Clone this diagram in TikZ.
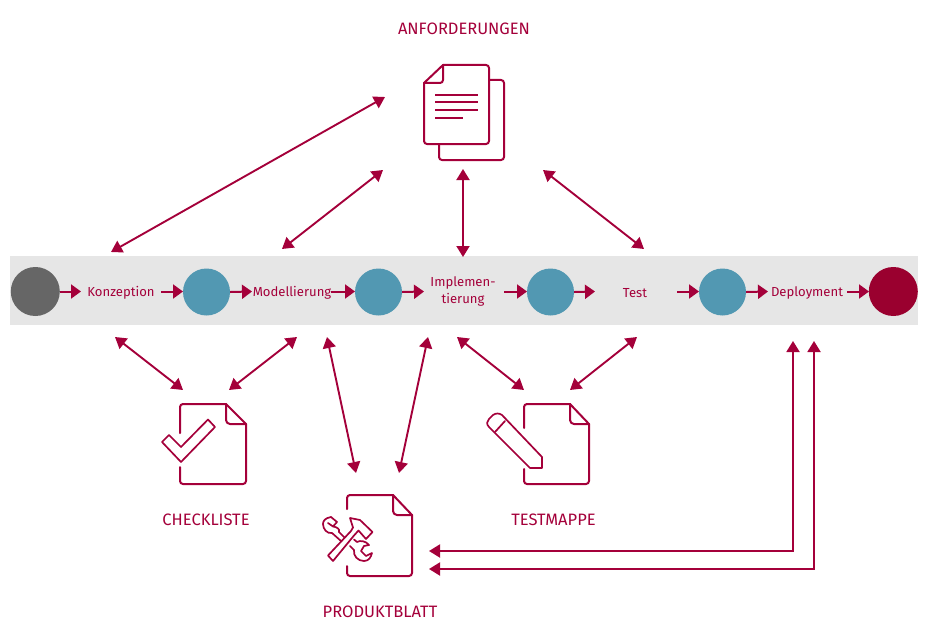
\documentclass[tikz,border=0pt]{standalone}
\usepackage{fontspec}
\setmainfont{Fira Sans}
\usetikzlibrary{arrows.meta}
\definecolor{wine}{HTML}{A4003A}
\definecolor{band}{HTML}{E6E6E6}
\definecolor{teal1}{HTML}{5298B2}
\definecolor{grayc}{HTML}{666666}
\definecolor{endc}{HTML}{9A002F}
\tikzset{
  flow/.style={draw=wine,line width=2pt,-{Triangle[length=10pt,width=14pt]}},
  link/.style={draw=wine,line width=1.9pt,{Triangle[length=11pt,width=13pt]}-{Triangle[length=11pt,width=13pt]}},
  stepname/.style={text=wine,font=\fontsize{13.1}{17.5}\selectfont,align=center,inner sep=0pt},
  title/.style={text=wine,font=\fontsize{16.5}{20}\selectfont,inner sep=0pt},
  icon/.style={draw=wine,line width=2pt,line join=round,line cap=round},
  thin icon/.style={draw=wine,line width=1.7pt,line join=round,line cap=round},
  state/.style={circle,inner sep=0pt,draw=none},
}
\begin{document}
\begin{tikzpicture}[x=1pt,y=-1pt]
\useasboundingbox (0,0) rectangle (931,623);
\fill[band] (10,256) rectangle (918,325);
% states
\node[state,fill=grayc,minimum size=49pt] (s0) at (35.3,291.5) {};
\node[state,fill=teal1,minimum size=47pt] (s1) at (206.5,292) {};
\node[state,fill=teal1,minimum size=47pt] (s2) at (378.5,292) {};
\node[state,fill=teal1,minimum size=47pt] (s3) at (550.5,292) {};
\node[state,fill=teal1,minimum size=47pt] (s4) at (722.5,292) {};
\node[state,fill=endc,minimum size=49pt] (s5) at (893.3,291.5) {};
% labels
\node[stepname] (konz) at (121,292.5) {Konzeption};
\node[stepname] (mod) at (292,292.5) {Modellierung};
\node[stepname] (impl) at (463,291.5) {Implemen-\\tierung};
\node[stepname] (test) at (635,293) {Test};
\node[stepname] (depl) at (807,293) {Deployment};
\coordinate (k0) at (81,291.5);
\coordinate (k1) at (161,291.5);
\coordinate (m0) at (252,291.5);
\coordinate (m1) at (331,291.5);
\coordinate (i0) at (424,291.5);
\coordinate (i1) at (504,291.5);
\coordinate (t0) at (595,291.5);
\coordinate (t1) at (677,291.5);
\coordinate (d0) at (768,291.5);
\coordinate (d1) at (847,291.5);
\coordinate (w1) at (183,291.5);
\coordinate (w2) at (355,291.5);
\coordinate (w3) at (527,291.5);
\coordinate (w4) at (699,291.5);
\coordinate (w5) at (869,291.5);
\draw[flow] (s0.east) -- (k0);
\draw[flow] (k1) -- (w1);
\draw[flow] (s1.east) -- (m0);
\draw[flow] (m1) -- (w2);
\draw[flow] (s2.east) -- (i0);
\draw[flow] (i1) -- (w3);
\draw[flow] (s3.east) -- (t0);
\draw[flow] (t1) -- (w4);
\draw[flow] (s4.east) -- (d0);
\draw[flow] (d1) -- (w5);
% titles
\node[title] (anf) at (464,29) {ANFORDERUNGEN};
\node[title] (chk) at (206,519.5) {CHECKLISTE};
\node[title] (tm) at (553.5,519.5) {TESTMAPPE};
\node[title] (pb) at (380,611.5) {PRODUKTBLATT};
% link ends
\coordinate (a1) at (385,97);   \coordinate (b1) at (111,252);
\coordinate (a2) at (383,170);  \coordinate (b2) at (282,249);
\coordinate (a3) at (463,169);  \coordinate (b3) at (463,257);
\coordinate (a4) at (543,170);  \coordinate (b4) at (644,249);
\coordinate (c1) at (115,337);  \coordinate (e1) at (183,390);
\coordinate (c2) at (297,337);  \coordinate (e2) at (229,390);
\coordinate (c3) at (327,337);  \coordinate (e3) at (356,473);
\coordinate (c4) at (428,337);  \coordinate (e4) at (399,473);
\coordinate (c5) at (457,337);  \coordinate (e5) at (524,390);
\coordinate (c6) at (637,337);  \coordinate (e6) at (570,390);
\coordinate (c7) at (793,341);  \coordinate (e7) at (429,551);
\coordinate (c8) at (814,341);  \coordinate (e8) at (429,569);
\draw[link] (a1) -- (b1);
\draw[link] (a2) -- (b2);
\draw[link] (a3) -- (b3);
\draw[link] (a4) -- (b4);
\draw[link] (c1) -- (e1);
\draw[link] (c2) -- (e2);
\draw[link] (c3) -- (e3);
\draw[link] (c4) -- (e4);
\draw[link] (c5) -- (e5);
\draw[link] (c6) -- (e6);
\draw[link] (c7) |- (e7);
\draw[link] (c8) |- (e8);
% requirements icon
\draw[icon] (489,80) -- (501,80) arc[start angle=-90,end angle=0,radius=3] -- (504,157) arc[start angle=0,end angle=90,radius=3] -- (442,160) arc[start angle=90,end angle=180,radius=3] -- (439,145);
\draw[icon] (443,65) -- (486,65) arc[start angle=-90,end angle=0,radius=3] -- (489,141) arc[start angle=0,end angle=90,radius=3] -- (427,144) arc[start angle=90,end angle=180,radius=3] -- (424,83) -- cycle;
\draw[icon] (443,65) -- (443,80) arc[start angle=0,end angle=90,radius=3] -- (424,83);
\draw[icon,line cap=butt] (435,95) -- (478,95) (435,102.5) -- (478,102.5) (435,110) -- (478,110) (435,118) -- (463,118);
% checklist icon
\draw[icon] (180,433) -- (180,407) arc[start angle=180,end angle=270,radius=3] -- (226,404) -- (246,424) -- (246,481) arc[start angle=0,end angle=90,radius=3] -- (183,484) arc[start angle=90,end angle=180,radius=3] -- (180,467);
\draw[icon] (226,404) -- (226,420) arc[start angle=180,end angle=90,radius=4] -- (246,424);
\draw[thin icon] (162,442) -- (169,435) -- (181,447) -- (208,419.5) -- (215,427) -- (181,462) -- cycle;
% test folder icon
\draw[icon] (524,428) -- (524,407) arc[start angle=180,end angle=270,radius=3] -- (570,404) -- (589,424) -- (589,481) arc[start angle=0,end angle=90,radius=3] -- (527,484) arc[start angle=90,end angle=180,radius=3] -- (524,469);
\draw[icon] (570,404) -- (570,420) arc[start angle=180,end angle=90,radius=4] -- (589,424);
\draw[thin icon] (542,457) -- (542,468) -- (530,468) -- (493,431) -- (489,427) .. controls (486,424) and (487,421) .. (489,419) -- (493,415) .. controls (496,413) and (499,413) .. (502,415) -- cycle;
\draw[thin icon] (495,432) -- (505,421);
% product icon
\draw[icon] (347,509) -- (347,498) arc[start angle=180,end angle=270,radius=3] -- (393,495) -- (412,515) -- (412,573) arc[start angle=0,end angle=90,radius=3] -- (350,576) arc[start angle=90,end angle=180,radius=3] -- (347,566);
\draw[icon] (393,495) -- (393,511) arc[start angle=180,end angle=90,radius=4] -- (412,515);
% hammer
\draw[thin icon] (350,518) -- (360,520) -- (372.5,532) -- (366,539) -- (358.5,530.5) -- (354,535.5) -- (333,561) -- (328,555.5) -- (351,531) -- (353,527.5) -- cycle;
% wrench
\draw[thin icon] (339,532) -- (344.5,537.5);
\draw[thin icon] (331,517) .. controls (325,518) and (323,521) .. (323,524) .. controls (323,529) and (327,534) .. (332,533) -- (341,541);
\draw[thin icon] (331,517) -- (337,522) -- (333,526.5) -- (328,523);
\draw[thin icon] (339,532) .. controls (340,529) and (337,527) .. (333,526.5);
\draw[thin icon] (350,546) -- (354,550) .. controls (353,556) and (358,561) .. (364,561) .. controls (369,561) and (371,557) .. (372,553) -- (366,556) -- (361,551) -- (364,546) -- (369,545) .. controls (366,541) and (360,540) .. (357,542) -- (354,539.5);
\end{tikzpicture}
\end{document}
